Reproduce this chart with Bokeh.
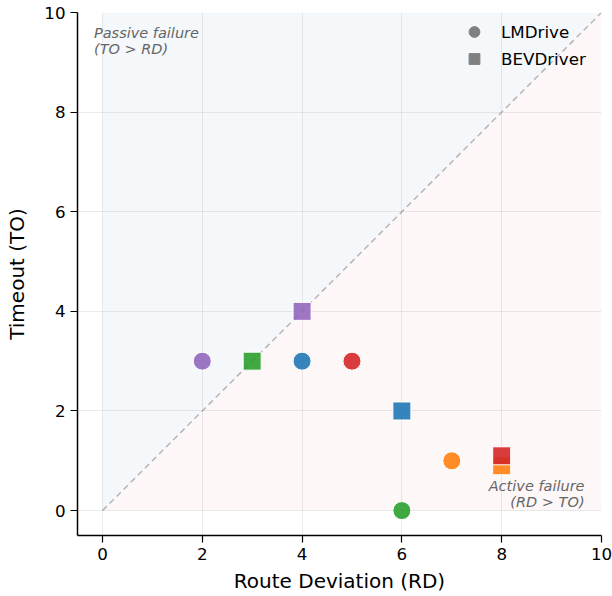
from bokeh.plotting import figure
from bokeh.models import Range1d, Legend, LegendItem, FixedTicker
from bokeh.core.properties import value
from bokeh.embed import file_html
from bokeh.resources import INLINE

# Data
lm_rd = [2, 4, 5, 7, 6]
lm_to = [3, 3, 3, 1, 0]
lm_colors = ["#9467bd", "#1f77b4", "#d62728", "#ff7f0e", "#2ca02c"]

bev_rd = [4, 3, 6, 8, 8]
bev_to = [4, 3, 2, 0.9, 1.1]
bev_colors = ["#9467bd", "#2ca02c", "#1f77b4", "#ff7f0e", "#d62728"]

ticks = [0, 2, 4, 6, 8, 10]
FONT = "DejaVu Sans"

p = figure(width=612, height=588, output_backend="svg", toolbar_location=None,
           x_range=Range1d(-0.5, 10), y_range=Range1d(-0.5, 10),
           min_border_left=77, min_border_top=12, min_border_right=11, min_border_bottom=53)
p.frame_width = 524
p.frame_height = 523
p.outline_line_color = None
p.background_fill_color = "white"

# regions
p.patch([0, 0, 10], [0, 10, 10], fill_color="#1f77b4", fill_alpha=0.05, line_color=None)
p.patch([0, 10, 10], [0, 0, 10], fill_color="#d62728", fill_alpha=0.04, line_color=None)
p.line([0, 10], [0, 10], line_color="gray", line_alpha=0.55, line_dash="6 4", line_width=1.5)

p.scatter(lm_rd, lm_to, marker="circle", size=18, fill_color=lm_colors, fill_alpha=0.9,
          line_color="white", line_width=1)
p.scatter(bev_rd, bev_to, marker="square", size=18, fill_color=bev_colors, fill_alpha=0.9,
          line_color="white", line_width=1)

# legend proxies (placed outside the visible range)
r1 = p.scatter([-100], [-100], marker="circle", size=12, fill_color="gray", line_color="gray")
r2 = p.scatter([-100], [-100], marker="square", size=12, fill_color="gray", line_color="gray")
legend = Legend(items=[LegendItem(label="LMDrive", renderers=[r1]),
                       LegendItem(label="BEVDriver", renderers=[r2])],
                location="top_right")
legend.label_text_font = FONT
legend.label_text_font_size = "16.7px"
legend.label_text_color = "black"
legend.background_fill_alpha = 0
legend.border_line_color = None
legend.margin = 6
legend.padding = 9
legend.spacing = 0
legend.glyph_width = 30
legend.glyph_height = 27
legend.label_height = 26
legend.label_width = 94
legend.label_standoff = 12
p.add_layout(legend)

# annotations
ann = dict(text_font=value(FONT), text_font_size="14.5px", text_font_style="italic",
           text_color="#666666", text_baseline="middle")
p.text([-0.17], [9.58], text=["Passive failure"], text_align="left", **ann)
p.text([-0.17], [9.26], text=["(TO > RD)"], text_align="left", **ann)
p.text([9.66], [0.50], text=["Active failure"], text_align="right", **ann)
p.text([9.66], [0.18], text=["(RD > TO)"], text_align="right", **ann)

# axes
for ax in (p.xaxis, p.yaxis):
    ax.ticker = FixedTicker(ticks=ticks)
    ax.major_label_text_font = FONT
    ax.major_label_text_font_size = "16.7px"
    ax.major_label_text_color = "black"
    ax.axis_label_text_font = FONT
    ax.axis_label_text_font_size = "20px"
    ax.axis_label_text_font_style = "normal"
    ax.axis_label_text_color = "black"
    ax.axis_line_color = "black"
    ax.axis_line_width = 1.5
    ax.major_tick_line_color = "black"
    ax.major_tick_line_width = 1.2
    ax.major_tick_out = 7
    ax.major_tick_in = 0
    ax.major_label_standoff = 5
    ax.minor_tick_line_color = None
p.xaxis.axis_label = "Route Deviation (RD)"
p.yaxis.axis_label = "Timeout (TO)"
p.yaxis.axis_label_standoff = 12
p.xaxis.axis_label_standoff = 6
p.yaxis.major_label_orientation = "horizontal"

p.xgrid.ticker = FixedTicker(ticks=ticks)
p.ygrid.ticker = FixedTicker(ticks=ticks)
p.grid.grid_line_color = "#b0b0b0"
p.grid.grid_line_alpha = 0.25

open("out.html", "w").write(file_html(p, INLINE))
